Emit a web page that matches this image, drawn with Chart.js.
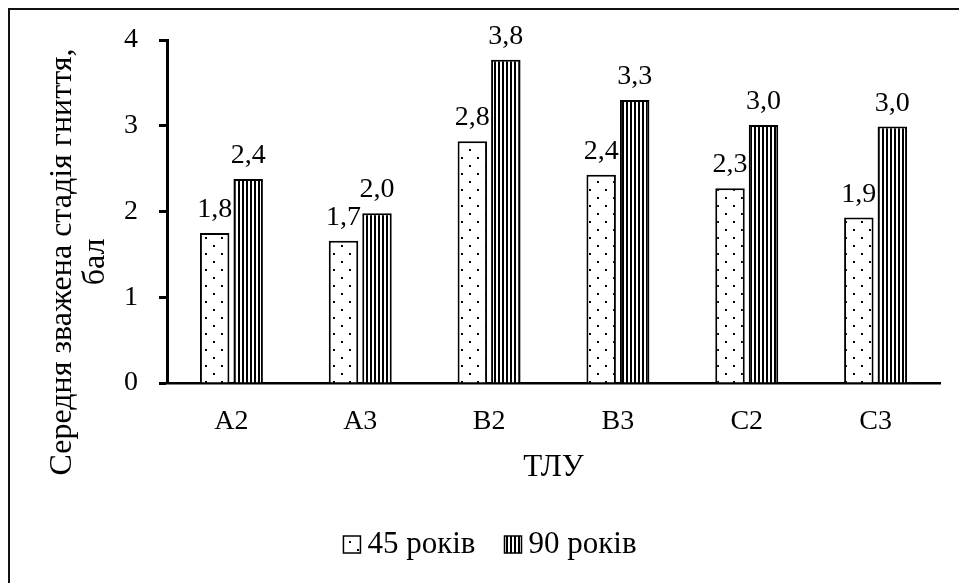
<!DOCTYPE html>
<html>
<head>
<meta charset="utf-8">
<script src="https://cdn.jsdelivr.net/npm/chart.js@4.4.1/dist/chart.umd.min.js"></script>
<style>
  html, body { margin: 0; padding: 0; background: #fff; }
  #frame {
    position: absolute; left: 8px; top: 8px;
    width: 951px; height: 575px;
    border-top: 2px solid #111; border-left: 2px solid #111;
  }
  #box { position: absolute; left: 0; top: 0; width: 949px; height: 573px; }
</style>
</head>
<body>
<div id="frame"><div id="box"><canvas id="myChart"></canvas></div></div>
<script>
var categories = ['А2', 'А3', 'В2', 'В3', 'С2', 'С3'];
var seriesNames = ['45 років', '90 років'];
var values45 = [1.75, 1.66, 2.82, 2.43, 2.27, 1.93];
var values90 = [2.38, 1.98, 3.77, 3.30, 3.01, 2.99];
var yTicks = [0, 1, 2, 3, 4];
var yTitle = ['Середня зважена стадія гниття,', 'бал'];
var xTitle = 'ТЛУ';

var fontFamily = '"Liberation Serif", "Times New Roman", serif';
Chart.defaults.color = '#000';
Chart.defaults.font.family = fontFamily;

// заливка крапками
function dotPattern() {
    var c = document.createElement('canvas');
    c.width = 16; c.height = 16;
    var g = c.getContext('2d');
    g.fillStyle = '#fff';
    g.fillRect(0, 0, 16, 16);
    g.fillStyle = '#000';
    g.fillRect(3, 3, 2, 2);
    g.fillRect(11, 11, 2, 2);
    return g.createPattern(c, 'repeat');
}

// вертикальні смуги
function stripePattern() {
    var c = document.createElement('canvas');
    c.width = 4; c.height = 4;
    var g = c.getContext('2d');
    g.fillStyle = '#fff';
    g.fillRect(0, 0, 4, 4);
    g.fillStyle = '#000';
    g.fillRect(0, 0, 2, 4);
    return g.createPattern(c, 'repeat');
}

function fmt(v) {
    return v.toFixed(1).replace('.', ',');
}

var valueLabels = {
    id: 'valueLabels',
    afterDatasetsDraw: function (chart) {
        var ctx = chart.ctx;
        ctx.save();
        ctx.font = '28px ' + fontFamily;
        ctx.fillStyle = '#000';
        ctx.textAlign = 'center';
        ctx.textBaseline = 'alphabetic';
        chart.data.datasets.forEach(function (ds, i) {
            chart.getDatasetMeta(i).data.forEach(function (bar, j) {
                ctx.fillText(fmt(ds.data[j]), bar.x, bar.y - 16);
            });
        });
        ctx.restore();
    }
};

// підпис осі Y у два рядки
var yTitlePlugin = {
    id: 'yTitlePlugin',
    afterDraw: function (chart) {
        var ctx = chart.ctx;
        var area = chart.chartArea;
        ctx.save();
        ctx.font = '32px ' + fontFamily;
        ctx.fillStyle = '#000';
        ctx.textAlign = 'center';
        ctx.textBaseline = 'middle';
        ctx.translate(area.left - 104, 252);
        ctx.rotate(-Math.PI / 2);
        ctx.fillText(yTitle[0], 0, 0);
        ctx.fillText(yTitle[1], 0, 33);
        ctx.restore();
    }
};

// легенда внизу
var bottomLegend = {
    id: 'bottomLegend',
    afterDraw: function (chart) {
        var ctx = chart.ctx;
        ctx.save();
        ctx.font = '31px ' + fontFamily;
        var box = 17, gapText = 7, gapItem = 29;
        var widths = chart.data.datasets.map(function (ds) { return ctx.measureText(ds.label).width; });
        var total = 0;
        widths.forEach(function (w, i) { total += box + gapText + w + (i > 0 ? gapItem : 0); });
        var x = 480 - total / 2;
        var base = 543;
        chart.data.datasets.forEach(function (ds, i) {
            ctx.fillStyle = ds.backgroundColor;
            ctx.fillRect(x, base - box, box, box);
            ctx.strokeStyle = '#000';
            ctx.lineWidth = 1.5;
            ctx.strokeRect(x, base - box, box, box);
            ctx.fillStyle = '#000';
            ctx.textAlign = 'left';
            ctx.textBaseline = 'alphabetic';
            ctx.fillText(ds.label, x + box + gapText, base);
            x += box + gapText + widths[i] + gapItem;
        });
        ctx.restore();
    }
};

var ctx = document.getElementById('myChart').getContext('2d');

var myChart = new Chart(ctx, {
    type: 'bar',
    data: {
        labels: categories,
        datasets: [{
            label: seriesNames[0],
            data: values45,
            backgroundColor: dotPattern(),
            borderColor: '#000',
            borderWidth: 2,
            categoryPercentage: 0.52,
            barPercentage: 0.88
        }, {
            label: seriesNames[1],
            data: values90,
            backgroundColor: stripePattern(),
            borderColor: '#000',
            borderWidth: 2,
            categoryPercentage: 0.52,
            barPercentage: 0.88
        }]
    },
    options: {
        responsive: true,
        maintainAspectRatio: false,
        animation: false,
        layout: { padding: { top: 30, right: 19, bottom: 80, left: 0 } },
        plugins: {
            legend: { display: false },
            tooltip: { enabled: false }
        },
        scales: {
            x: {
                afterFit: function (scale) { scale.height = 120; },
                grid: { display: false, drawTicks: false },
                border: { display: true, color: '#000', width: 2.5 },
                ticks: { font: { size: 28 }, padding: 22 },
                title: {
                    display: true,
                    text: xTitle,
                    font: { size: 31 },
                    padding: { top: 0, bottom: 17 }
                }
            },
            y: {
                min: 0,
                max: 4,
                afterFit: function (scale) {
                    scale.width = 157;
                    scale.paddingTop = 0;
                    scale.paddingBottom = 0;
                },
                afterBuildTicks: function (scale) {
                    scale.ticks = yTicks.map(function (v) { return { value: v }; });
                },
                grid: {
                    drawOnChartArea: false,
                    drawTicks: true,
                    tickLength: 8,
                    tickWidth: 3,
                    tickColor: '#000'
                },
                border: { display: true, color: '#000', width: 3 },
                ticks: { font: { size: 28 }, padding: 21 }
            }
        }
    },
    plugins: [valueLabels, yTitlePlugin, bottomLegend]
});
</script>
</body>
</html>
